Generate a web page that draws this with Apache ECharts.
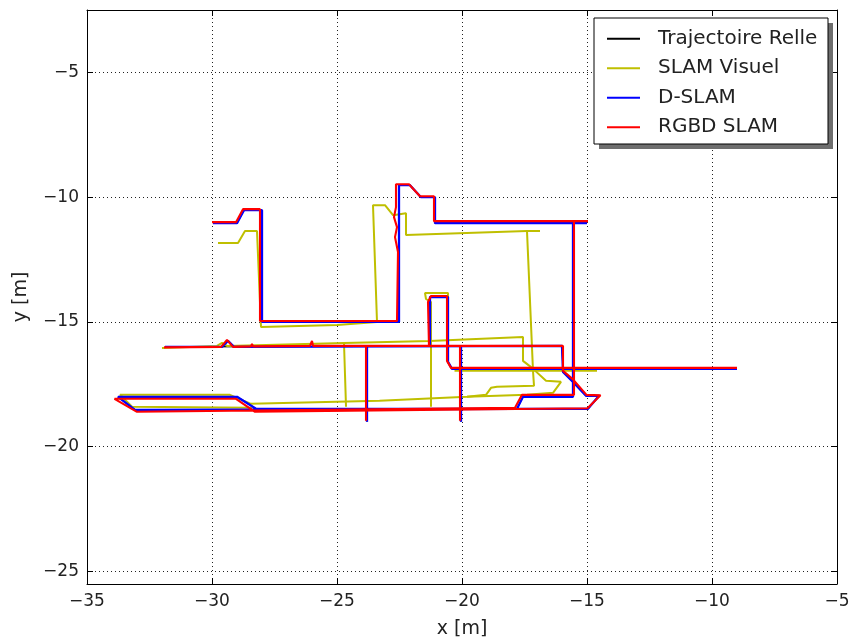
<!DOCTYPE html>
<html>
<head>
<meta charset="utf-8">
<script src="https://cdn.jsdelivr.net/npm/echarts@6/dist/echarts.min.js"></script>
<style>html,body{margin:0;padding:0;background:#fff}#c{width:855px;height:644px}</style>
</head>
<body>
<div id="c"></div>
<script>
// Series names
const seriesNames = ['Trajectoire Relle', 'SLAM Visuel', 'D-SLAM', 'RGBD SLAM'];
// Axis ticks
const xTicks = [-35, -30, -25, -20, -15, -10, -5];
const yTicks = [-25, -20, -15, -10, -5];

// Polylines (null separates pieces) — values in metres
const trueTraj = [
  [-29.96,-11.04],[-29.0,-11.04],[-28.72,-10.52],[-28.0,-10.52],[-28.0,-15.0],[-22.52,-15.0],[-22.52,-9.52],[-22.08,-9.52],[-21.64,-10.0],[-21.08,-10.0],[-21.08,-11.04],[-15.0,-11.04],[-15.56,-11.04],[-15.56,-18.0],[-17.56,-18.0],[-17.8,-18.48],[-33.08,-18.52],[-33.76,-18.0],[-29.0,-18.0],[-28.24,-18.48],[-14.96,-18.48],[-14.52,-17.96],[-15.04,-17.96],[-15.6,-17.36],[-15.96,-17.0],[-16.0,-15.96],[-31.88,-16.0],
  null,
  [-21.28,-16.0],[-21.28,-14.0],[-20.56,-14.0],[-20.56,-16.6],[-20.4,-16.88],[-9.0,-16.88],
  null,
  [-23.8,-16.0],[-23.8,-19.0],
  null,
  [-20.04,-16.0],[-20.04,-19.0]
];

const slamVisuel = [
  [-29.76,-11.84],[-28.96,-11.84],[-28.68,-11.36],[-28.2,-11.36],[-28.04,-15.2],[-25.0,-15.12],[-23.4,-15.0],[-23.56,-10.32],[-23.08,-10.32],[-22.76,-10.72],[-22.24,-10.64],[-22.24,-11.52],[-17.4,-11.36],[-16.88,-11.36],
  null,
  [-17.4,-11.36],[-17.16,-16.96],[-17.12,-17.56],[-18.6,-17.6],[-18.84,-17.64],[-19.04,-17.92],[-19.8,-18.0],[-23.3,-18.16],[-28.44,-18.28],[-29.28,-17.92],[-33.68,-17.92],[-33.2,-18.4],[-28.4,-18.44],
  null,
  [-32.0,-16.04],[-29.8,-15.96],[-29.6,-15.84],[-29.4,-15.96],[-24.72,-15.84],[-21.3,-15.76],[-17.56,-15.6],[-17.56,-16.56],[-17.2,-16.84],[-16.64,-17.36],[-16.04,-17.4],[-16.36,-17.84],[-17.4,-17.92],[-19.8,-18.0],
  null,
  [-24.72,-15.84],[-24.64,-18.4],
  null,
  [-20.56,-14.04],[-20.56,-13.84],[-21.48,-13.84],[-21.44,-14.08],[-21.24,-14.2],[-21.24,-18.4],
  null,
  [-20.3,-16.96],[-14.6,-16.96]
];

const dslam = [
  [-29.96,-11.04],[-29.0,-11.04],[-28.72,-10.52],[-28.0,-10.52],[-28.0,-15.0],[-22.52,-15.0],[-22.52,-9.52],[-22.08,-9.52],[-21.64,-10.0],[-21.08,-10.0],[-21.08,-11.04],[-15.0,-11.04],[-15.56,-11.04],[-15.56,-18.0],[-17.56,-18.0],[-17.8,-18.48],[-33.08,-18.52],[-33.76,-18.0],[-29.0,-18.0],[-28.24,-18.48],[-14.96,-18.48],[-14.52,-17.96],[-15.04,-17.96],[-15.6,-17.36],[-15.96,-17.0],[-16.0,-15.96],[-29.12,-16.0],[-29.36,-15.76],[-29.6,-16.0],[-31.88,-16.0],
  null,
  [-21.28,-16.0],[-21.28,-14.0],[-20.56,-14.0],[-20.56,-16.6],[-20.4,-16.88],[-9.0,-16.88],
  null,
  [-23.8,-16.0],[-23.8,-19.0],
  null,
  [-20.04,-16.0],[-20.04,-19.0]
];

const rgbdSlam = [
  [-30.0,-11.0],[-29.04,-11.0],[-28.76,-10.48],[-28.08,-10.48],[-28.08,-14.96],[-22.6,-14.96],[-22.56,-12.2],[-22.68,-11.6],[-22.6,-11.2],[-22.72,-10.8],[-22.64,-10.4],[-22.64,-9.48],[-22.12,-9.48],[-21.68,-9.96],[-21.12,-9.96],[-21.12,-10.96],[-14.96,-10.96],[-15.52,-10.96],[-15.52,-17.92],[-17.6,-17.92],[-17.88,-18.44],[-33.0,-18.6],[-33.9,-18.08],[-29.04,-18.08],[-28.28,-18.6],[-14.98,-18.46],[-14.46,-17.94],[-15.02,-17.92],[-15.56,-17.3],[-15.96,-16.96],[-15.96,-15.96],[-25.96,-15.96],[-26.0,-15.76],[-26.08,-15.96],[-28.36,-15.98],[-28.4,-15.88],[-28.44,-15.98],[-29.16,-16.0],[-29.4,-15.72],[-29.64,-16.0],[-31.92,-16.02],
  null,
  [-21.32,-16.0],[-21.36,-14.2],[-21.24,-13.96],[-20.6,-13.96],[-20.6,-16.56],[-20.44,-16.84],[-9.0,-16.84],
  null,
  [-23.84,-15.96],[-23.84,-18.96],
  null,
  [-20.08,-15.96],[-20.08,-18.96]
];

function pieces(arr) {
  const out = []; let cur = [];
  arr.forEach(p => { if (p === null) { if (cur.length) out.push(cur); cur = []; } else cur.push(p); });
  if (cur.length) out.push(cur);
  return out;
}
function makeSeries(name, color, width, arr) {
  return pieces(arr).map(seg => ({
    type: 'line', name: name, data: seg, symbol: 'none', showSymbol: false,
    lineStyle: { color: color, width: width }, itemStyle: { color: color },
    animation: false, silent: true, clip: true
  }));
}

const FONT = 'DejaVu Sans';
const fmt = v => String(v).replace('-', '\u2212');

const series = [].concat(
  makeSeries(seriesNames[0], '#000000', 1.2, trueTraj),
  makeSeries(seriesNames[1], '#bfbf00', 2.0, slamVisuel),
  makeSeries(seriesNames[2], '#0000ff', 2.3, dslam),
  makeSeries(seriesNames[3], '#ff0000', 2.1, rgbdSlam)
);

const chart = echarts.init(document.getElementById('c'), null, { renderer: 'canvas' });
const gridLine = { show: true, lineStyle: { color: '#222', type: [1, 3], width: 1 } };
chart.setOption({
  animation: false,
  backgroundColor: '#ffffff',
  grid: { left: 87, right: 18, top: 10, bottom: 58, containLabel: false },
  xAxis: [
    { type: 'value', min: -35, max: -5, interval: 5, position: 'bottom',
      name: 'x [m]', nameLocation: 'middle', nameGap: 36,
      nameTextStyle: { fontFamily: FONT, fontSize: 19, color: '#222' },
      axisLine: { show: true, onZero: false, lineStyle: { color: '#000', width: 1 } },
      axisTick: { show: true, inside: true, length: 6, lineStyle: { color: '#000' } },
      axisLabel: { fontFamily: FONT, fontSize: 17, color: '#222', margin: 9, formatter: v => xTicks.includes(v) ? fmt(v) : '' },
      splitLine: gridLine },
    { type: 'value', min: -35, max: -5, interval: 5, position: 'top',
      axisLine: { show: true, onZero: false, lineStyle: { color: '#000', width: 1 } },
      axisTick: { show: true, inside: true, length: 6, lineStyle: { color: '#000' } },
      axisLabel: { show: false }, splitLine: { show: false } }
  ],
  yAxis: [
    { type: 'value', min: -25.5, max: -2.5, splitNumber: 5, position: 'left',
      name: 'y [m]', nameLocation: 'middle', nameGap: 56, nameRotate: 90,
      nameTextStyle: { fontFamily: FONT, fontSize: 19, color: '#222' },
      axisLine: { show: true, onZero: false, lineStyle: { color: '#000', width: 1 } },
      axisTick: { show: true, inside: true, length: 6, lineStyle: { color: '#000' } },
      axisLabel: { fontFamily: FONT, fontSize: 17, color: '#222', margin: 8, formatter: v => yTicks.includes(v) ? fmt(v) : '' },
      splitLine: gridLine },
    { type: 'value', min: -25.5, max: -2.5, splitNumber: 5, position: 'right',
      axisLine: { show: true, onZero: false, lineStyle: { color: '#000', width: 1 } },
      axisTick: { show: true, inside: true, length: 6, lineStyle: { color: '#000' } },
      axisLabel: { show: false }, splitLine: { show: false } }
  ],
  graphic: [
    { type: 'rect', z: 50, silent: true,
      shape: { x: 599, y: 23, width: 234, height: 126 },
      style: { fill: '#6e6e6e' } }
  ],
  legend: {
    data: seriesNames,
    orient: 'vertical', left: 594, top: 18, z: 60,
    padding: [6, 10, 2, 13],
    itemGap: 0, itemWidth: 33, itemHeight: 2, icon: 'rect',
    backgroundColor: '#ffffff', borderColor: '#000', borderWidth: 1, borderRadius: 0,
    textStyle: { fontFamily: FONT, fontSize: 20, color: '#222', lineHeight: 29.5, width: 160, padding: [0, 0, 0, 13] },
    selectedMode: false
  },
  series: series
});
</script>
</body>
</html>
